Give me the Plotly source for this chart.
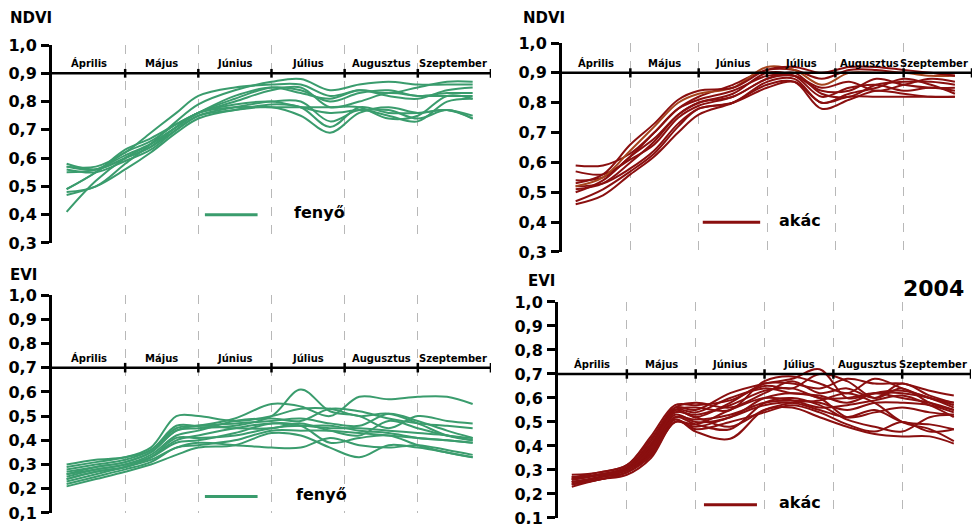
import plotly.graph_objects as go

# ---------------- data ----------------
months = ["Április", "Május", "Június", "Július", "Augusztus", "Szeptember"]
x_pts = [0.2, 0.6, 1.0, 1.35, 1.7, 2.0, 2.5, 3.0, 3.4, 3.8, 4.2, 4.6, 5.0, 5.4, 5.75]

ndvi_ticks = [0.3, 0.4, 0.5, 0.6, 0.7, 0.8, 0.9, 1.0]
evi_ticks = [0.1, 0.2, 0.3, 0.4, 0.5, 0.6, 0.7, 0.8, 0.9, 1.0]

ndvi_fenyo = [
    [0.48, 0.50, 0.58, 0.65, 0.73, 0.79, 0.84, 0.87, 0.88, 0.84, 0.86, 0.87, 0.86, 0.86, 0.86],
    [0.57, 0.57, 0.62, 0.69, 0.76, 0.82, 0.85, 0.86, 0.86, 0.82, 0.84, 0.83, 0.85, 0.87, 0.87],
    [0.41, 0.52, 0.60, 0.65, 0.71, 0.76, 0.81, 0.85, 0.84, 0.80, 0.83, 0.84, 0.82, 0.83, 0.83],
    [0.47, 0.50, 0.56, 0.62, 0.69, 0.74, 0.77, 0.78, 0.75, 0.69, 0.76, 0.78, 0.76, 0.77, 0.74],
    [0.58, 0.56, 0.60, 0.64, 0.70, 0.75, 0.77, 0.79, 0.78, 0.71, 0.78, 0.76, 0.76, 0.77, 0.75],
    [0.56, 0.55, 0.59, 0.63, 0.70, 0.75, 0.78, 0.80, 0.80, 0.73, 0.77, 0.75, 0.73, 0.80, 0.81],
    [0.49, 0.55, 0.63, 0.67, 0.72, 0.76, 0.80, 0.84, 0.85, 0.78, 0.80, 0.83, 0.82, 0.82, 0.82],
    [0.57, 0.56, 0.60, 0.64, 0.71, 0.76, 0.78, 0.78, 0.78, 0.78, 0.78, 0.74, 0.75, 0.82, 0.81],
    [0.49, 0.55, 0.62, 0.66, 0.72, 0.76, 0.82, 0.85, 0.83, 0.81, 0.84, 0.82, 0.81, 0.84, 0.85],
    [0.55, 0.56, 0.61, 0.65, 0.71, 0.76, 0.79, 0.80, 0.78, 0.76, 0.77, 0.77, 0.74, 0.77, 0.74],
]

ndvi_akac = [
    [0.46, 0.49, 0.56, 0.62, 0.70, 0.76, 0.80, 0.86, 0.87, 0.78, 0.81, 0.84, 0.83, 0.82, 0.82],
    [0.59, 0.59, 0.63, 0.70, 0.78, 0.82, 0.86, 0.91, 0.91, 0.88, 0.91, 0.91, 0.90, 0.90, 0.89],
    [0.51, 0.53, 0.60, 0.67, 0.76, 0.80, 0.83, 0.90, 0.89, 0.82, 0.85, 0.86, 0.84, 0.85, 0.84],
    [0.47, 0.51, 0.57, 0.63, 0.72, 0.78, 0.80, 0.85, 0.87, 0.80, 0.82, 0.82, 0.82, 0.82, 0.82],
    [0.54, 0.55, 0.62, 0.70, 0.78, 0.81, 0.84, 0.89, 0.89, 0.84, 0.84, 0.88, 0.86, 0.85, 0.85],
    [0.57, 0.56, 0.61, 0.66, 0.75, 0.79, 0.82, 0.88, 0.90, 0.83, 0.82, 0.86, 0.87, 0.87, 0.86],
    [0.52, 0.53, 0.58, 0.64, 0.73, 0.78, 0.80, 0.87, 0.88, 0.80, 0.83, 0.85, 0.88, 0.86, 0.83],
    [0.50, 0.54, 0.62, 0.68, 0.76, 0.80, 0.82, 0.88, 0.89, 0.85, 0.87, 0.84, 0.86, 0.88, 0.87],
    [0.52, 0.55, 0.64, 0.72, 0.80, 0.83, 0.85, 0.92, 0.91, 0.86, 0.90, 0.90, 0.90, 0.89, 0.89],
    [0.53, 0.56, 0.66, 0.73, 0.81, 0.84, 0.85, 0.91, 0.92, 0.90, 0.92, 0.92, 0.91, 0.90, 0.89],
]
ndvi_akac_orange = [8]  # lines drawn in a lighter brown

evi_fenyo = [
    [0.30, 0.32, 0.33, 0.37, 0.50, 0.50, 0.48, 0.50, 0.53, 0.53, 0.50, 0.51, 0.47, 0.42, 0.40],
    [0.28, 0.30, 0.32, 0.36, 0.45, 0.46, 0.49, 0.55, 0.54, 0.50, 0.58, 0.57, 0.58, 0.58, 0.55],
    [0.26, 0.29, 0.31, 0.35, 0.44, 0.45, 0.46, 0.50, 0.61, 0.52, 0.50, 0.45, 0.50, 0.48, 0.47],
    [0.25, 0.28, 0.30, 0.34, 0.42, 0.44, 0.48, 0.49, 0.48, 0.53, 0.52, 0.49, 0.47, 0.46, 0.45],
    [0.24, 0.27, 0.29, 0.33, 0.40, 0.42, 0.45, 0.47, 0.46, 0.46, 0.44, 0.43, 0.41, 0.40, 0.39],
    [0.22, 0.25, 0.28, 0.31, 0.37, 0.38, 0.40, 0.44, 0.44, 0.44, 0.43, 0.42, 0.41, 0.40, 0.39],
    [0.21, 0.24, 0.27, 0.30, 0.34, 0.37, 0.38, 0.43, 0.42, 0.37, 0.33, 0.38, 0.37, 0.35, 0.33],
    [0.27, 0.29, 0.31, 0.35, 0.44, 0.46, 0.45, 0.45, 0.47, 0.44, 0.42, 0.48, 0.45, 0.42, 0.41],
    [0.23, 0.26, 0.29, 0.32, 0.37, 0.39, 0.38, 0.37, 0.37, 0.41, 0.38, 0.37, 0.38, 0.36, 0.34],
    [0.29, 0.31, 0.33, 0.36, 0.46, 0.46, 0.47, 0.48, 0.49, 0.47, 0.46, 0.51, 0.48, 0.44, 0.41],
    [0.26, 0.28, 0.30, 0.33, 0.39, 0.40, 0.43, 0.47, 0.46, 0.39, 0.41, 0.42, 0.38, 0.35, 0.33],
    [0.24, 0.27, 0.29, 0.33, 0.41, 0.41, 0.42, 0.45, 0.46, 0.45, 0.45, 0.44, 0.43, 0.42, 0.40],
]

evi_akac = [
    [0.27, 0.28, 0.31, 0.42, 0.56, 0.55, 0.62, 0.66, 0.68, 0.72, 0.60, 0.62, 0.62, 0.60, 0.57],
    [0.26, 0.28, 0.30, 0.40, 0.55, 0.52, 0.58, 0.66, 0.66, 0.64, 0.68, 0.66, 0.66, 0.63, 0.61],
    [0.25, 0.27, 0.30, 0.38, 0.53, 0.50, 0.52, 0.60, 0.62, 0.60, 0.52, 0.54, 0.56, 0.54, 0.53],
    [0.24, 0.26, 0.29, 0.36, 0.51, 0.46, 0.43, 0.55, 0.56, 0.52, 0.48, 0.45, 0.44, 0.44, 0.41],
    [0.28, 0.29, 0.32, 0.44, 0.57, 0.57, 0.59, 0.65, 0.64, 0.70, 0.67, 0.60, 0.64, 0.58, 0.55],
    [0.23, 0.26, 0.28, 0.35, 0.50, 0.48, 0.52, 0.57, 0.58, 0.55, 0.52, 0.55, 0.50, 0.49, 0.47],
    [0.26, 0.28, 0.31, 0.41, 0.55, 0.54, 0.60, 0.64, 0.62, 0.61, 0.58, 0.62, 0.63, 0.60, 0.56],
    [0.27, 0.29, 0.32, 0.43, 0.56, 0.58, 0.56, 0.62, 0.67, 0.62, 0.64, 0.60, 0.66, 0.61, 0.58],
    [0.25, 0.27, 0.30, 0.37, 0.52, 0.49, 0.47, 0.58, 0.60, 0.57, 0.51, 0.48, 0.46, 0.52, 0.53],
    [0.24, 0.27, 0.29, 0.37, 0.51, 0.47, 0.50, 0.54, 0.57, 0.54, 0.49, 0.46, 0.50, 0.46, 0.47],
    [0.26, 0.28, 0.31, 0.39, 0.54, 0.53, 0.57, 0.63, 0.64, 0.60, 0.60, 0.62, 0.60, 0.58, 0.55],
    [0.27, 0.28, 0.31, 0.40, 0.55, 0.56, 0.55, 0.67, 0.69, 0.66, 0.62, 0.68, 0.64, 0.60, 0.58],
    [0.25, 0.27, 0.30, 0.38, 0.52, 0.51, 0.53, 0.58, 0.59, 0.58, 0.55, 0.58, 0.58, 0.57, 0.54],
    [0.24, 0.26, 0.29, 0.36, 0.50, 0.49, 0.55, 0.60, 0.59, 0.56, 0.57, 0.59, 0.61, 0.57, 0.52],
    [0.26, 0.28, 0.30, 0.39, 0.54, 0.52, 0.48, 0.55, 0.58, 0.59, 0.62, 0.58, 0.50, 0.47, 0.42],
]

GREEN = "#3a9c6d"
RED = "#8a0f0f"
BROWN = "#a5441c"
FONT = "DejaVu Sans"

panels = [
    dict(data=ndvi_fenyo, color=GREEN, ticks=ndvi_ticks, yr=[0.3, 1.0], level=0.9,
         leg_y=0.40, name="fenyő", title="NDVI",
         xd=[0.0535, 0.5051], yd=[0.5363, 0.9141], leg_x=[2.09, 2.81], txt_x=3.66,
         title_px=(8, 18)),
    dict(data=ndvi_akac, color=RED, ticks=ndvi_ticks, yr=[0.3, 1.0], level=0.9,
         leg_y=0.40, name="akác", title="NDVI",
         xd=[0.5782, 1.0], yd=[0.5191, 0.9179], leg_x=[2.06, 2.90], txt_x=3.48,
         title_px=(521, 18)),
    dict(data=evi_fenyo, color=GREEN, ticks=evi_ticks, yr=[0.1, 1.0], level=0.7,
         leg_y=0.168, name="fenyő", title="EVI",
         xd=[0.0535, 0.5051], yd=[0.0210, 0.4370], leg_x=[2.09, 2.81], txt_x=3.68,
         title_px=(8, 275)),
    dict(data=evi_akac, color=RED, ticks=evi_ticks, yr=[0.1, 1.0], level=0.7,
         leg_y=0.155, name="akác", title="EVI",
         xd=[0.5741, 0.999], yd=[0.0115, 0.4237], leg_x=[2.12, 2.89], txt_x=3.52,
         title_px=(526, 281)),
]

W, H = 972, 524
fig = go.Figure()
shapes = []
annotations = []

for i, p in enumerate(panels):
    k = "" if i == 0 else str(i + 1)
    xr, yr = "x" + k, "y" + k
    for j, ys in enumerate(p["data"]):
        col = p["color"]
        if i == 1 and j in ndvi_akac_orange:
            col = BROWN
        fig.add_trace(go.Scatter(
            x=x_pts, y=ys, mode="lines", xaxis=xr, yaxis=yr, showlegend=False,
            line=dict(color=col, width=2, shape="spline", smoothing=1.0),
            hoverinfo="skip"))

    fig.layout["xaxis" + k] = dict(
        domain=p["xd"], range=[0, 6], anchor=yr, tickvals=[1, 2, 3, 4, 5, 6],
        showticklabels=False, ticks="", showgrid=True, gridcolor="#b8b8b8",
        griddash="dash", gridwidth=1, zeroline=False, showline=False,
        fixedrange=True, automargin=False)
    fig.layout["yaxis" + k] = dict(
        domain=p["yd"], range=p["yr"], anchor=xr, tickvals=p["ticks"],
        ticktext=[f"{v:.1f}".replace(".", ",") for v in p["ticks"]],
        showgrid=False, zeroline=False, showline=True, linecolor="black", linewidth=3,
        ticks="outside", ticklen=8, tickwidth=2.5, tickcolor="black",
        tickfont=dict(family=FONT, size=16, color="black", weight="bold"),
        ticklabelstandoff=1, ticklabeloverflow="allow",
        fixedrange=True, automargin=False)

    # month baseline
    shapes.append(dict(type="line", xref=xr, yref=yr, x0=0, x1=6,
                       y0=p["level"], y1=p["level"],
                       line=dict(color="black", width=2.5), layer="above"))
    span = (p["yr"][1] - p["yr"][0]) * 0.022
    for m in range(1, 7):
        shapes.append(dict(type="line", xref=xr, yref=yr, x0=m, x1=m,
                           y0=p["level"] - span, y1=p["level"] + span,
                           line=dict(color="black", width=2.5), layer="above"))
    for m, name in enumerate(months):
        if m == len(months) - 1:
            ann = dict(x=6, xanchor="right", xshift=-2)
        else:
            ann = dict(x=m + 0.5, xanchor="center")
        ann.update(y=p["level"], xref=xr, yref=yr, text=name,
                   showarrow=False, yanchor="bottom", yshift=2,
                   font=dict(family=FONT, size=10, color="black", weight="bold"))
        annotations.append(ann)
    # legend sample
    shapes.append(dict(type="line", xref=xr, yref=yr, x0=p["leg_x"][0], x1=p["leg_x"][1],
                       y0=p["leg_y"], y1=p["leg_y"],
                       line=dict(color=p["color"], width=3)))
    annotations.append(dict(x=p["txt_x"], y=p["leg_y"], xref=xr, yref=yr, text=p["name"],
                            showarrow=False, yanchor="middle", yshift=2,
                            font=dict(family=FONT, size=16, color="black",
                                      weight="bold")))
    # axis title above the y axis
    tx, ty = p["title_px"]
    annotations.append(dict(x=tx / W, y=1 - ty / H, xref="paper", yref="paper",
                            text=p["title"], showarrow=False, xanchor="left",
                            yanchor="middle",
                            font=dict(family=FONT, size=15, color="black",
                                      weight="bold")))

annotations.append(dict(x=933 / W, y=1 - 288 / H, xref="paper", yref="paper", text="2004",
                        showarrow=False, xanchor="center", yanchor="middle",
                        font=dict(family=FONT, size=22, color="black", weight="bold")))

fig.update_layout(
    width=W, height=H, autosize=False,
    margin=dict(l=0, r=0, t=0, b=0, pad=0),
    paper_bgcolor="white", plot_bgcolor="white",
    shapes=shapes, annotations=annotations, showlegend=False)

fig.write_html(
    "out.html",
    config={"displayModeBar": False},
    post_script="document.body.style.margin='0';document.body.style.overflow='hidden';")
